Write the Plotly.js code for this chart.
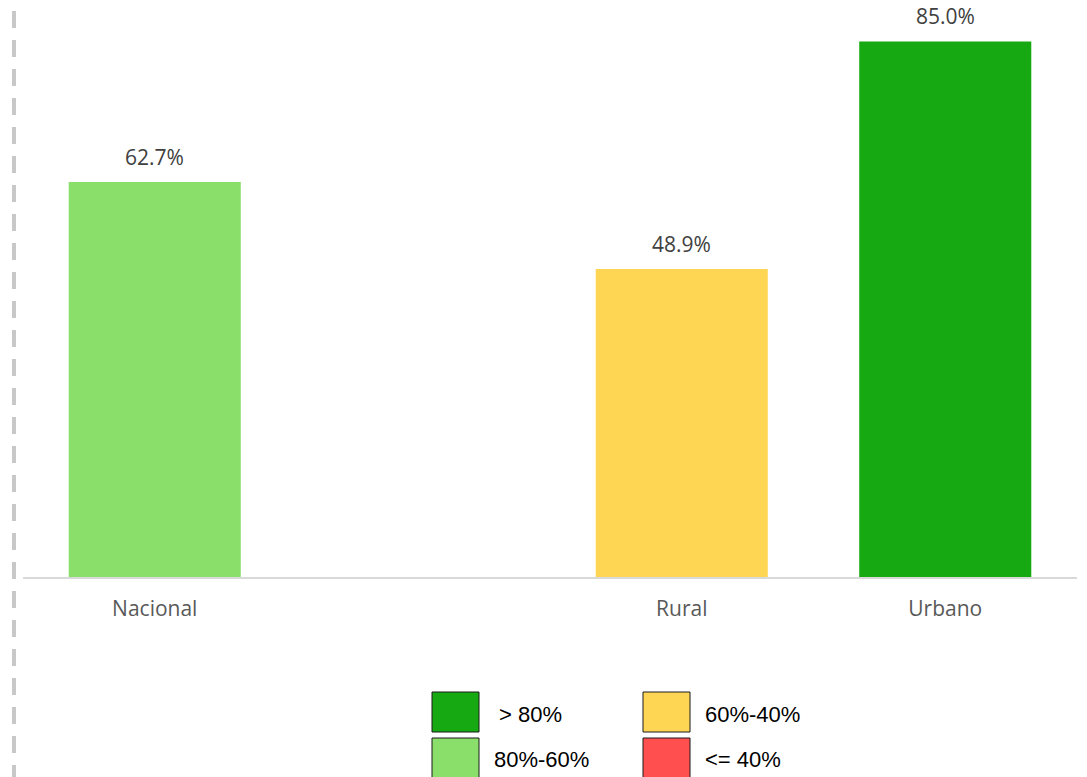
<!DOCTYPE html>
<html>
<head>
<meta charset="utf-8">
<script src="https://cdn.plot.ly/plotly-3.0.1.min.js"></script>
<style>html,body{margin:0;padding:0;background:#fff;}#chart{width:1087px;height:777px;}</style>
</head>
<body>
<div id="chart"></div>
<script>
// Data
const categories = ["Nacional", " ", "Rural", "Urbano"];
const values = [62.7, null, 48.9, 85.0];
const barColors = ["#8ADE6A", "#FFFFFF", "#FFD654", "#17A912"];
const legendLabels = ["> 80%", "80%-60%", "60%-40%", "<= 40%"];
const legendColors = ["#17A912", "#8ADE6A", "#FFD654", "#FF504F"];

const W = 1087, H = 777;
const mL = 23, mR = 10, mT = 10, mB = 200;
const pw = W - mL - mR, ph = H - mT - mB;
const px = x => (x - mL) / pw;
const py = y => (H - mB - y) / ph;

const trace = {
  type: "bar",
  x: categories,
  y: values,
  marker: {color: barColors},
  hoverinfo: "none"
};

const annotations = [];
categories.forEach((c, i) => {
  if (values[i] === null) return;
  annotations.push({
    x: c, y: values[i], xref: "x", yref: "y",
    text: values[i].toFixed(1) + "%",
    showarrow: false, yanchor: "bottom", yshift: 9,
    font: {family: "Open Sans", size: 21, color: "#404040"}
  });
});

// legend boxes (2x2)
const boxPos = [[432, 692], [432, 738], [643, 692], [643, 738]];
const textPos = [[497, 714], [492, 759], [703, 714], [703, 759]];
const shapes = [{
  type: "line", xref: "paper", yref: "paper",
  x0: px(14), x1: px(14), y0: py(H + 5), y1: py(-5),
  line: {color: "#C8C8C8", width: 4, dash: "17px,12px"}
}];
legendLabels.forEach((lab, i) => {
  const [bx, by] = boxPos[i];
  shapes.push({
    type: "rect", xref: "paper", yref: "paper",
    x0: px(bx), x1: px(bx + 47), y0: py(by), y1: py(by + 40),
    fillcolor: legendColors[i], line: {color: "#1a1a1a", width: 1}
  });
  annotations.push({
    x: px(textPos[i][0]), y: py(textPos[i][1]), xref: "paper", yref: "paper",
    xanchor: "left", yanchor: "middle", showarrow: false, text: lab,
    font: {family: "Liberation Sans", size: 22, color: "#000000"}
  });
});

const layout = {
  width: W, height: H,
  margin: {l: mL, r: mR, t: mT, b: mB, pad: 0},
  paper_bgcolor: "#ffffff", plot_bgcolor: "#ffffff",
  showlegend: false,
  bargap: 0.347,
  xaxis: {
    type: "category", categoryorder: "array", categoryarray: categories,
    showline: true, linecolor: "#D9D9D9", linewidth: 2,
    showgrid: false, zeroline: false, ticks: "",
    ticklabelstandoff: 12,
    tickfont: {family: "Open Sans", size: 21, color: "#595959"}
  },
  yaxis: {range: [0, 90], visible: false, showgrid: false, zeroline: false},
  shapes: shapes,
  annotations: annotations
};

Plotly.newPlot("chart", [trace], layout, {displayModeBar: false, staticPlot: true});
</script>
</body>
</html>
